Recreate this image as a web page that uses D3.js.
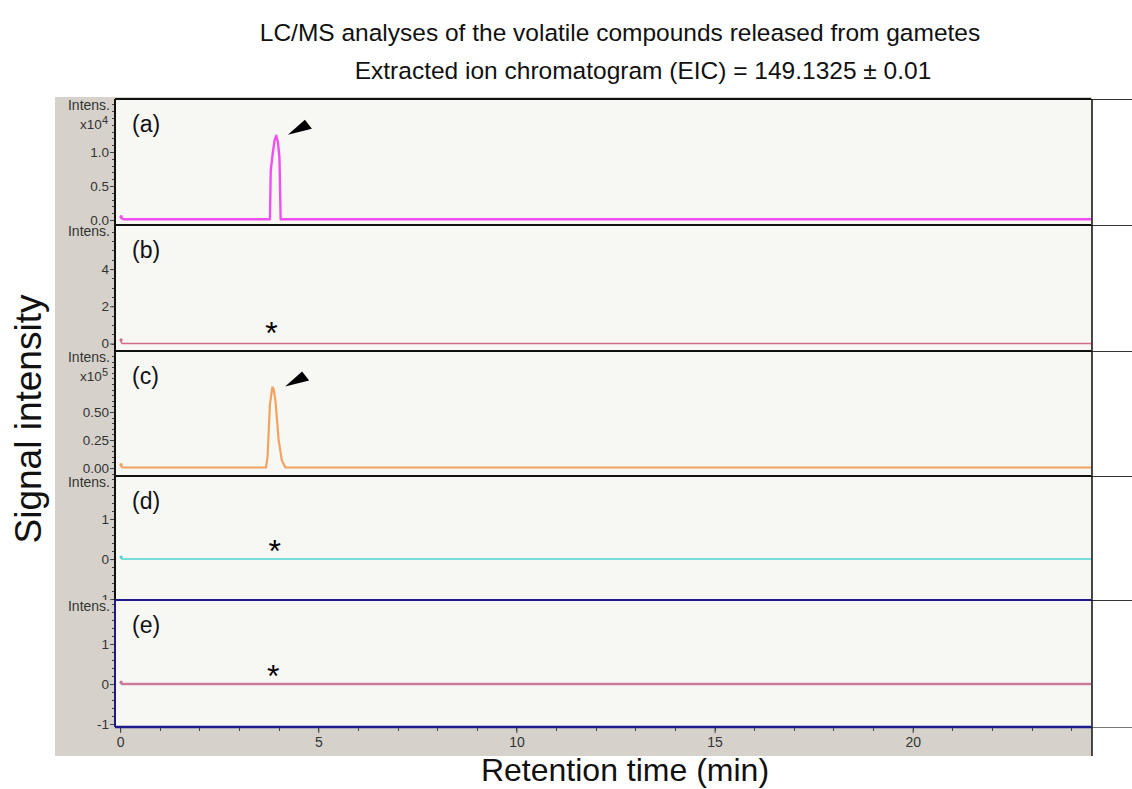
<!DOCTYPE html>
<html><head><meta charset="utf-8">
<script src="https://cdn.jsdelivr.net/npm/d3@7"></script>
<style>body{margin:0;background:#fff} svg{display:block}</style>
</head><body><svg id="c" width="1132" height="789"></svg>
<script>
// ---- data ----
const titleLine1 = "LC/MS analyses of the volatile compounds released from gametes";
const titleLine2 = "Extracted ion chromatogram (EIC) = 149.1325  \u00b1 0.01";
const yTitle = "Signal intensity";
const xTitle = "Retention time (min)";
const panelLabels = ["(a)", "(b)", "(c)", "(d)", "(e)"];
const scaleLabels = ["x10", "", "x10", "", ""];
const scaleExps = ["4", "", "5", "", ""];

// (a) intensity in x10^4
const timeA = [0, 0.05, 0.1, 3.75, 3.78, 3.80, 3.85, 3.90, 3.94, 3.98, 4.02, 4.05, 4.08, 24.5];
const intensA = [0.05, 0.02, 0.01, 0.01, 0.01, 0.72, 0.98, 1.18, 1.24, 1.15, 0.92, 0.01, 0.01, 0.01];
// (b)
const timeB = [0, 0.05, 24.5];
const intensB = [0.2, 0, 0];
// (c) intensity in x10^5
const timeC = [0, 0.05, 3.68, 3.72, 3.78, 3.84, 3.87, 3.92, 4.00, 4.08, 4.17, 24.5];
const intensC = [0.03, 0.005, 0.005, 0.1, 0.57, 0.72, 0.71, 0.6, 0.25, 0.07, 0.005, 0.005];
// (d)
const timeD = [0, 0.05, 24.5];
const intensD = [0.05, 0, 0];
// (e)
const timeE = [0, 0.05, 24.5];
const intensE = [0.05, 0, 0];

const yTicksA = [0, 0.5, 1.0], yTickLabelsA = ["0.0", "0.5", "1.0"];
const yTicksB = [0, 2, 4], yTickLabelsB = ["0", "2", "4"];
const yTicksC = [0, 0.25, 0.5], yTickLabelsC = ["0.00", "0.25", "0.50"];
const yTicksD = [-1, 0, 1], yTickLabelsD = ["-1", "0", "1"];
const yTicksE = [-1, 0, 1], yTickLabelsE = ["-1", "0", "1"];
const xTicks = [0, 5, 10, 15, 20];

// peaks marked with arrowheads, empty traces marked with asterisks
const arrowPeaks = [[3.93, 1.24], null, [3.86, 0.72], null, null];
const asterisks = [null, [3.82, 1.0], null, [3.9, 0.4], [3.86, 0.4]];

// ---- layout ----
const svg = d3.select("#c");
const L = 115, R = 1091;
const tops = [99, 225, 351, 476, 600], bots = [225, 351, 476, 600, 727];
const yDomains = [[-0.074, 1.78], [-0.40, 6.37], [-0.071, 1.045], [-1.02, 2.07], [-1.075, 2.1]];
const minorSteps = [0.1, 0.5, 0.05, 0.2, 0.2];
const colors = ["#f050f0", "#d46a8a", "#f4a261", "#4fd3d0", "#c97d9a"];
const widths = [2.4, 1.4, 2.2, 1.5, 2.6];
const borderColors = ["#111", "#111", "#111", "#111", "#1c1c8a"];

const x = d3.scaleLinear().domain([-0.13, 24.5]).range([L, R]);

const series = [
  {t: timeA, v: intensA, ticks: yTicksA, labels: yTickLabelsA},
  {t: timeB, v: intensB, ticks: yTicksB, labels: yTickLabelsB},
  {t: timeC, v: intensC, ticks: yTicksC, labels: yTickLabelsC},
  {t: timeD, v: intensD, ticks: yTicksD, labels: yTickLabelsD},
  {t: timeE, v: intensE, ticks: yTicksE, labels: yTickLabelsE},
];

const narrow = "'Liberation Sans Narrow','Arial Narrow','Liberation Sans',Arial,sans-serif";
const sans = "'Liberation Sans',Arial,Helvetica,sans-serif";

// gray frame
svg.append("rect").attr("x", 55).attr("y", 97).attr("width", R + 1 - 55).attr("height", 756 - 97).attr("fill", "#d6d2cb");

const defs = svg.append("defs");

series.forEach((s, i) => {
  const y = d3.scaleLinear().domain(yDomains[i]).range([bots[i], tops[i]]);
  const g = svg.append("g");
  g.append("rect").attr("x", L).attr("y", tops[i]).attr("width", R - L).attr("height", bots[i] - tops[i]).attr("fill", "#f7f7f4");
  defs.append("clipPath").attr("id", "clip" + i).append("rect")
    .attr("x", L).attr("y", tops[i]).attr("width", R - L).attr("height", bots[i] - tops[i]);
  defs.append("clipPath").attr("id", "lclip" + i).append("rect")
    .attr("x", 0).attr("y", tops[i]).attr("width", L + 2).attr("height", (i === 4 ? 756 : bots[i]) - tops[i]);

  // trace
  const line = d3.line().x((d, k) => x(s.t[k])).y((d, k) => y(s.v[k]));
  g.append("path").datum(s.t).attr("d", line).attr("fill", "none")
    .attr("stroke", colors[i]).attr("stroke-width", widths[i]).attr("stroke-linejoin", "round")
    .attr("clip-path", "url(#clip" + i + ")");
  // small start dot
  g.append("circle").attr("cx", x(s.t[0]) + 1).attr("cy", y(s.v[0])).attr("r", 1.6).attr("fill", colors[i]);

  // y axis
  const lg = g.append("g").attr("clip-path", "url(#lclip" + i + ")");
  const [d0, d1] = yDomains[i];
  const minor = d3.range(Math.ceil(d0 / minorSteps[i]) * minorSteps[i], d1, minorSteps[i]);
  lg.selectAll(".mn").data(minor).enter().append("line")
    .attr("x1", L - 3).attr("x2", L).attr("y1", d => Math.round(y(d)) + 0.5).attr("y2", d => Math.round(y(d)) + 0.5)
    .attr("stroke", "#444").attr("stroke-width", 1);
  const yAxis = d3.axisLeft(y).tickValues(s.ticks).tickFormat((d, k) => s.labels[k]).tickSize(5).tickPadding(1);
  const ax = lg.append("g").attr("transform", `translate(${L},0)`).call(yAxis);
  ax.select(".domain").remove();
  ax.selectAll("line").attr("stroke", "#444");
  ax.selectAll("text").attr("font-family", sans).attr("font-size", 13.5).attr("fill", "#333");

  // "Intens." and scale
  g.append("text").attr("x", L - 5).attr("y", tops[i] + 11).attr("text-anchor", "end")
    .attr("font-family", narrow).attr("font-size", 14).attr("fill", "#333").text("Intens.");
  if (scaleLabels[i]) {
    const t = g.append("text").attr("x", L - 7).attr("y", tops[i] + 30).attr("text-anchor", "end")
      .attr("font-family", sans).attr("font-size", 13.5).attr("fill", "#333");
    t.append("tspan").text(scaleLabels[i]);
    t.append("tspan").attr("dy", -5).attr("font-size", 11).text(scaleExps[i]);
  }

  // panel label
  g.append("text").attr("x", 132).attr("y", tops[i] + 33).attr("font-family", sans)
    .attr("font-size", 23).attr("fill", "#111").text(panelLabels[i]);

  // arrowhead
  if (arrowPeaks[i]) {
    const px = x(arrowPeaks[i][0]) + 12, py = y(arrowPeaks[i][1]) - 1;
    g.append("path").attr("d", `M${px},${py} L${px + 17},${py - 15} L${px + 24},${py - 6} Z`).attr("fill", "#000");
  }
  if (asterisks[i]) {
    g.append("text").attr("x", x(asterisks[i][0])).attr("y", y(asterisks[i][1]) + 19).attr("text-anchor", "middle")
      .attr("font-family", sans).attr("font-size", 32).attr("fill", "#000").text("*");
  }

  // borders
  const bc = borderColors[i];
  g.append("line").attr("x1", L).attr("x2", R).attr("y1", tops[i]).attr("y2", tops[i]).attr("stroke", bc).attr("stroke-width", 2);
  g.append("line").attr("x1", L).attr("x2", L).attr("y1", tops[i]).attr("y2", bots[i]).attr("stroke", bc).attr("stroke-width", 2);
  // separators extending beyond plot to the right
  g.append("line").attr("x1", R).attr("x2", 1132).attr("y1", tops[i] + 0.5).attr("y2", tops[i] + 0.5).attr("stroke", "#333").attr("stroke-width", 1);
});

// bottom border of panel (e)
svg.append("line").attr("x1", L).attr("x2", R).attr("y1", 727).attr("y2", 727).attr("stroke", borderColors[4]).attr("stroke-width", 2.5);
svg.append("line").attr("x1", R).attr("x2", 1132).attr("y1", 727.5).attr("y2", 727.5).attr("stroke", "#777").attr("stroke-width", 1);
// right border
svg.append("line").attr("x1", R + 1).attr("x2", R + 1).attr("y1", 99).attr("y2", 756).attr("stroke", "#111").attr("stroke-width", 1.5);

// x axis
const xMinor = d3.range(0, 25, 1);
svg.append("g").selectAll("line").data(xMinor).enter().append("line")
  .attr("x1", d => Math.round(x(d)) + 0.5).attr("x2", d => Math.round(x(d)) + 0.5).attr("y1", 728).attr("y2", 731)
  .attr("stroke", "#444");
const xAxis = d3.axisBottom(x).tickValues(xTicks).tickSize(5).tickPadding(4);
const xa = svg.append("g").attr("transform", "translate(0,728)").call(xAxis);
xa.select(".domain").remove();
xa.selectAll("line").attr("stroke", "#444");
xa.selectAll("text").attr("font-family", sans).attr("font-size", 14).attr("fill", "#333");

// titles
svg.append("text").attr("x", 620).attr("y", 41).attr("text-anchor", "middle").attr("font-family", sans)
  .attr("font-size", 24.5).attr("fill", "#111").text(titleLine1);
svg.append("text").attr("x", 643).attr("y", 79).attr("text-anchor", "middle").attr("font-family", sans)
  .attr("font-size", 24.5).attr("fill", "#111").text(titleLine2);
svg.append("text").attr("transform", "translate(41,419) rotate(-90)").attr("text-anchor", "middle")
  .attr("font-family", sans).attr("font-size", 37).attr("fill", "#111").text(yTitle);
svg.append("text").attr("x", 625).attr("y", 781).attr("text-anchor", "middle").attr("font-family", sans)
  .attr("font-size", 32).attr("fill", "#111").text(xTitle);
</script>
</body></html>
